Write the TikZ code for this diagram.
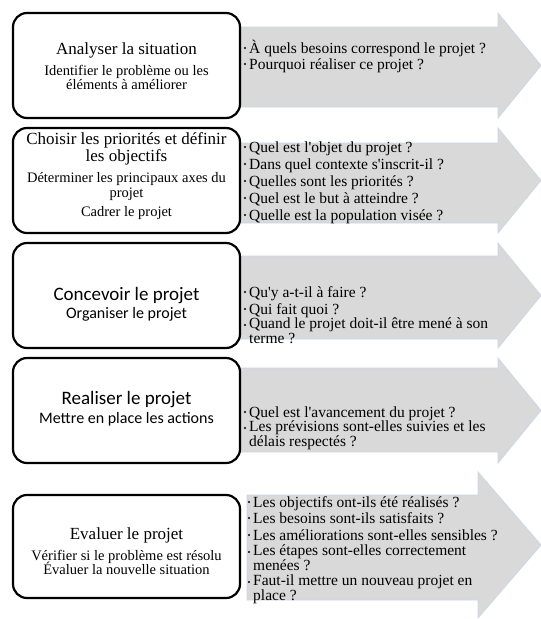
\documentclass[tikz,border=0pt]{standalone}
\usepackage{fontspec}
\newfontfamily\tnr{Liberation Serif}
\newfontfamily\calfont{Carlito}
\definecolor{arrowgray}{RGB}{217,217,217}
\definecolor{arrowedge}{RGB}{205,215,232}
% one-line question: name, x, baseline, text
\newcommand\qitem[4]{%
  \node[qdot] (#1b) at (#2,#3-5) {};
  \node[qtext] (#1) at (#2+4,#3) {#4};}
% two-line question: name, x, baseline of first line, text with \\
\newcommand\qitemtwo[4]{%
  \node[qdot] (#1b) at (#2,#3-5) {};
  \node[qtext] (#1) at (#2+4,#3+13.5) {#4};}
\begin{document}
\begin{tikzpicture}[x=1pt,y=-1pt,
  stepbox/.style={draw=black,line width=2.2pt,rounded corners=14pt,fill=white,
    minimum width=227pt,minimum height=105pt,inner sep=0pt},
  bigarrow/.style={fill=arrowgray,draw=arrowedge,line width=0.8pt,line join=miter},
  ttl/.style={anchor=base,inner sep=0pt,font=\tnr\fontsize{17}{17}\selectfont},
  sub/.style={anchor=base,inner sep=0pt,font=\tnr\fontsize{14.5}{14}\selectfont},
  cttl/.style={anchor=base,inner sep=0pt,font=\calfont\fontsize{19}{18}\selectfont},
  csub/.style={anchor=base,inner sep=0pt,font=\calfont\fontsize{16}{16}\selectfont},
  qtext/.style={anchor=base west,inner sep=0pt,align=left,font=\tnr\fontsize{15.5}{13.5}\selectfont},
  qdot/.style={circle,fill=black,inner sep=0pt,minimum size=2.4pt}
]
\useasboundingbox (0,0) rectangle (541,619);
\fill[white] (0,0) rectangle (541,619);

% arrows
\draw[bigarrow] (238,27) -- (498,27) -- (498,13) -- (541,65.5) -- (498,118) -- (498,107) -- (238,107) -- cycle;
\draw[bigarrow] (238,143) -- (498,143) -- (498,128) -- (541,180.5) -- (498,233) -- (498,223) -- (238,223) -- cycle;
\draw[bigarrow] (238,256) -- (498,256) -- (498,243) -- (541,295.5) -- (498,348) -- (498,339) -- (238,339) -- cycle;
\draw[bigarrow] (238,368) -- (498,368) -- (498,358) -- (541,410.5) -- (498,463) -- (498,452) -- (238,452) -- cycle;
\draw[bigarrow] (247,495) -- (478,495) -- (478,472) -- (541,545) -- (478,618) -- (478,600) -- (247,600) -- cycle;

% boxes
\node[stepbox] (b1) at (126.5,65.5) {};
\node[stepbox] (b2) at (126.5,180.5) {};
\node[stepbox] (b3) at (126.5,295.5) {};
\node[stepbox] (b4) at (126.5,410.5) {};
\node[stepbox,minimum height=103pt] (b5) at (126.5,546.5) {};

% box texts
\node[ttl] (t1) at (126.5,54) {Analyser la situation};
\node[sub] (s1a) at (126.5,75) {Identifier le problème ou les};
\node[sub] (s1b) at (126.5,89) {éléments à améliorer};

\node[ttl] (t2a) at (126.5,144) {Choisir les priorités et définir};
\node[ttl] (t2b) at (126.5,161) {les objectifs};
\node[sub] (s2a) at (126.5,182) {Déterminer les principaux axes du};
\node[sub] (s2b) at (126.5,197) {projet};
\node[sub] (s2c) at (126.5,216) {Cadrer le projet};

\node[cttl] (t3) at (126.5,300) {Concevoir le projet};
\node[csub] (s3) at (126.5,318) {Organiser le projet};

\node[cttl] (t4) at (126.5,404) {Realiser le projet};
\node[csub] (s4) at (126.5,423) {Mettre en place les actions};

\node[ttl] (t5) at (126.5,539) {Evaluer le projet};
\node[sub] (s5a) at (126.5,560) {Vérifier si le problème est résolu};
\node[sub] (s5b) at (126.5,574) {Évaluer la nouvelle situation};

% questions
\qitem{q11}{245}{53}{À quels besoins correspond le projet ?}
\qitem{q12}{245}{69}{Pourquoi réaliser ce projet ?}

\qitem{q21}{245}{152}{Quel est l'objet du projet ?}
\qitem{q22}{245}{169}{Dans quel contexte s'inscrit-il ?}
\qitem{q23}{245}{186}{Quelles sont les priorités ?}
\qitem{q24}{245}{203}{Quel est le but à atteindre ?}
\qitem{q25}{245}{220}{Quelle est la population visée ?}

\qitem{q31}{245}{297}{Qu'y a-t-il à faire ?}
\qitem{q32}{245}{314}{Qui fait quoi ?}
\qitemtwo{q33}{245}{330}{Quand le projet doit-il être mené à son\\terme ?}

\qitem{q41}{245}{417}{Quel est l'avancement du projet ?}
\qitemtwo{q42}{245}{433}{Les prévisions sont-elles suivies et les\\délais respectés ?}

\qitem{q51}{249}{507}{Les objectifs ont-ils été réalisés ?}
\qitem{q52}{249}{523}{Les besoins sont-ils satisfaits ?}
\qitem{q53}{249}{540}{Les améliorations sont-elles sensibles ?}
\qitemtwo{q54}{249}{557}{Les étapes sont-elles correctement\\menées ?}
\qitemtwo{q55}{249}{587}{Faut-il mettre un nouveau projet en\\place ?}
\end{tikzpicture}
\end{document}
